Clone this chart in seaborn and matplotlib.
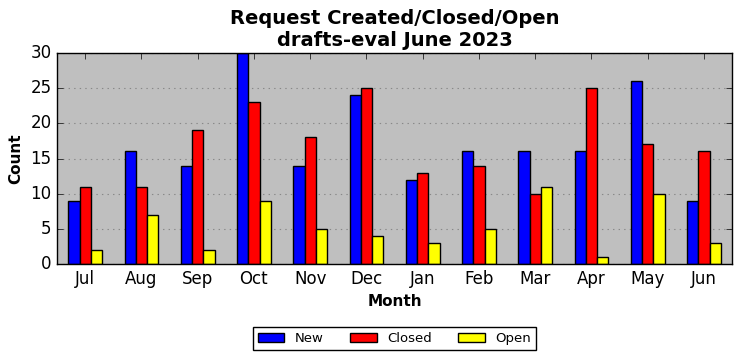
import pandas as pd
import matplotlib
matplotlib.use('Agg')
import matplotlib.pyplot as plt
import seaborn as sns

months = ['Jul', 'Aug', 'Sep', 'Oct', 'Nov', 'Dec', 'Jan', 'Feb', 'Mar', 'Apr', 'May', 'Jun']
new = [9, 16, 14, 30, 14, 24, 12, 16, 16, 16, 26, 9]
closed = [11, 11, 19, 23, 18, 25, 13, 14, 10, 25, 17, 16]
open_ = [2, 7, 2, 9, 5, 4, 3, 5, 11, 1, 10, 3]
series = ['New', 'Closed', 'Open']
colors = ['#0000ff', '#ff0000', '#ffff00']

df = pd.DataFrame({'Month': months, 'New': new, 'Closed': closed, 'Open': open_})
long_df = df.melt(id_vars='Month', var_name='Series', value_name='Count')

plt.style.use('classic')
fig = plt.figure(figsize=(7.42, 3.61), dpi=100, facecolor='white')
ax = fig.add_axes([57 / 742, 1 - 264 / 361, 675 / 742, 211 / 361])
ax.set_facecolor('#bfbfbf')

sns.barplot(data=long_df, x='Month', y='Count', hue='Series', hue_order=series,
            order=months, palette=colors, width=0.6, edgecolor='black',
            linewidth=1, saturation=1, ax=ax)

ax.set_xlim(-0.5, 11.5)
ax.set_ylim(0, 30)
ax.set_yticks(range(0, 31, 5))
ax.yaxis.grid(True, linestyle=(0, (1, 3)), color='#888888', linewidth=0.8)
ax.xaxis.grid(False)
ax.set_axisbelow(True)
ax.tick_params(axis='both', labelsize=12)
ax.set_xlabel('Month', fontsize=11, fontweight='bold')
ax.set_ylabel('Count', fontsize=11, fontweight='bold')
ax.set_title('Request Created/Closed/Open\ndrafts-eval June 2023', fontsize=14, fontweight='bold')

handles, labels = ax.get_legend_handles_labels()
ax.legend(handles, labels, loc='upper center', bbox_to_anchor=(0.5, -0.265), ncol=3,
          fontsize=9.5, frameon=True, fancybox=False, title=None)

fig.savefig('out.png', dpi=100, facecolor='white')
